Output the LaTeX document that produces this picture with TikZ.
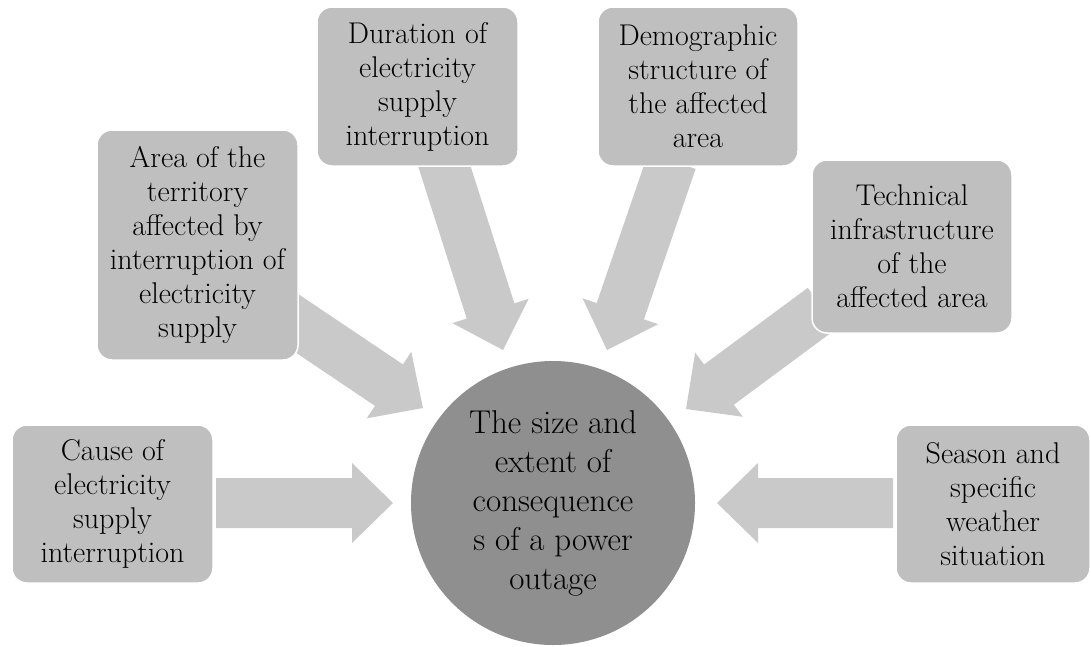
\documentclass[tikz,border=0pt]{standalone}
\usepackage{fontspec}
\definecolor{boxgray}{RGB}{191,191,191}
\definecolor{arrowgray}{RGB}{201,201,201}
\definecolor{circgray}{RGB}{143,143,143}
\tikzset{
  box/.style={draw=white, line width=1.5pt, fill=boxgray, rounded corners=15pt,
    align=center, inner sep=0pt, text=black, font=\rmfamily\fontsize{30}{34}\selectfont},
  hub/.style={circle, fill=circgray, minimum size=284pt, inner sep=0pt,
    align=center, text=black, font=\rmfamily\fontsize{33}{39}\selectfont},
  blockarrow/.style={fill=arrowgray}
}
\newcommand\bigarrow[3]{%
  \begin{scope}[shift={(#1)}, rotate=#2]
    \fill[blockarrow] (0,0) -- (-41,40) -- (-41,25) -- (-#3,25) -- (-#3,-25)
      -- (-41,-25) -- (-41,-40) -- cycle;
  \end{scope}}
\begin{document}
\begin{tikzpicture}[x=1pt,y=-1pt]
\useasboundingbox (0,0) rectangle (1091,646);
% arrow tips
\coordinate (tipcause) at (393,503);
\coordinate (tipseason) at (717,503);
\coordinate (tiparea) at (423,408);
\coordinate (tiptech) at (686,409);
\coordinate (tipdur) at (503,350);
\coordinate (tipdemo) at (607,350);
% arrows (drawn below boxes)
\bigarrow{tipcause}{0}{177}
\bigarrow{tipseason}{180}{176}
\bigarrow{tiparea}{-33.9}{170}
\bigarrow{tiptech}{-143.5}{170}
\bigarrow{tipdur}{-72.3}{200}
\bigarrow{tipdemo}{-108.95}{200}
% hub
\node[hub] (hub) at (553,503) {The size and\\extent of\\consequence\\s of a power\\outage};
% boxes
\node[box, minimum width=201pt, minimum height=158pt] (cause) at (112.5,504)
  {Cause of\\electricity\\supply\\interruption};
\node[box, minimum width=201pt, minimum height=230pt] (area) at (197.5,245)
  {Area of the\\territory\\affected by\\interruption of\\electricity\\supply};
\node[box, minimum width=201pt, minimum height=159pt] (dur) at (417.5,86.5)
  {Duration of\\electricity\\supply\\interruption};
\node[box, minimum width=200pt, minimum height=159pt] (demo) at (698,86.5)
  {Demographic\\structure of\\the affected\\area};
\node[box, minimum width=200pt, minimum height=173pt] (tech) at (912,246.5)
  {Technical\\infrastructure\\of the\\affected area};
\node[box, minimum width=194pt, minimum height=158pt] (season) at (993,504)
  {Season and\\specific\\weather\\situation};
\end{tikzpicture}
\end{document}
